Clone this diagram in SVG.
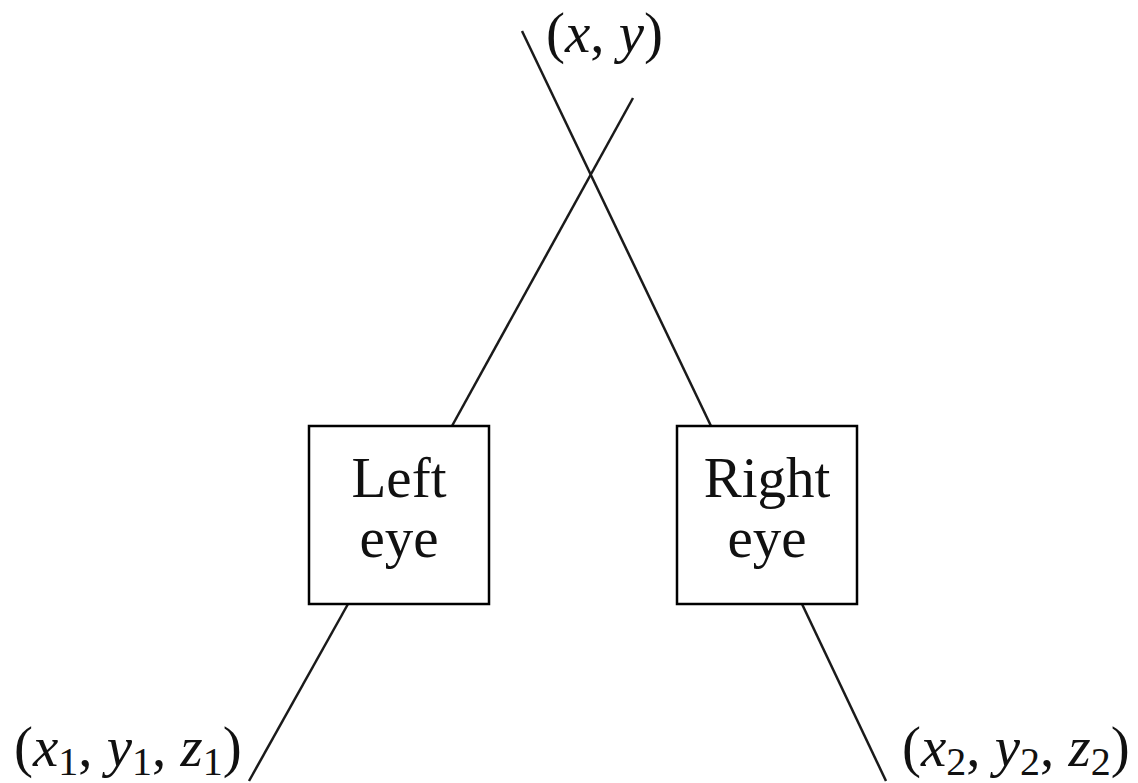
<svg xmlns="http://www.w3.org/2000/svg" width="1138" height="783" viewBox="0 0 1138 783">
<style>
.box{fill:#fff;stroke:#000;stroke-width:2.5}
.ln{stroke:#1a1a1a;stroke-width:2.5;fill:none}
text{font-family:"Liberation Serif","Times New Roman",serif;font-size:57px;fill:#111}
.i{font-style:italic}
.s{font-size:40px}
</style>
<rect width="1138" height="783" fill="#fff"/>
<g id="connectors">
<line class="ln" x1="522" y1="31" x2="711" y2="426"/>
<line class="ln" x1="633" y1="98" x2="452" y2="426"/>
<line class="ln" x1="348" y1="604" x2="249" y2="781"/>
<line class="ln" x1="802" y1="604" x2="886" y2="781"/>
</g>
<g id="left-eye">
<rect class="box" x="309" y="426" width="180" height="178"/>
<text x="399" y="497" text-anchor="middle">Left</text>
<text x="399" y="557" text-anchor="middle">eye</text>
</g>
<g id="right-eye">
<rect class="box" x="677" y="426" width="180" height="178"/>
<text x="767" y="497" text-anchor="middle">Right</text>
<text x="767" y="557" text-anchor="middle">eye</text>
</g>
<g id="label-xy">
<text x="546" y="52">(<tspan class="i">x</tspan>, <tspan class="i">y</tspan>)</text>
</g>
<g id="label-left">
<text x="14" y="766">(<tspan class="i">x</tspan><tspan class="s" dy="9">1</tspan><tspan dy="-9">, </tspan><tspan class="i">y</tspan><tspan class="s" dy="9">1</tspan><tspan dy="-9">, </tspan><tspan class="i">z</tspan><tspan class="s" dy="9">1</tspan><tspan dy="-9">)</tspan></text>
</g>
<g id="label-right">
<text x="902" y="766">(<tspan class="i">x</tspan><tspan class="s" dy="9">2</tspan><tspan dy="-9">, </tspan><tspan class="i">y</tspan><tspan class="s" dy="9">2</tspan><tspan dy="-9">, </tspan><tspan class="i">z</tspan><tspan class="s" dy="9">2</tspan><tspan dy="-9">)</tspan></text>
</g>
</svg>
